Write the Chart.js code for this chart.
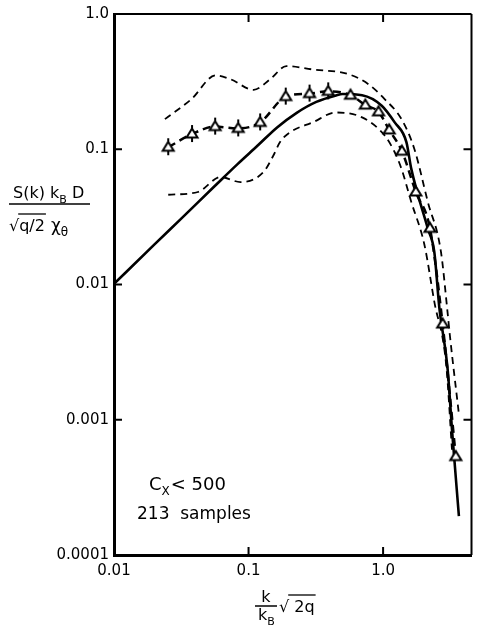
<!DOCTYPE html>
<html>
<head>
<meta charset="utf-8">
<script src="https://cdn.jsdelivr.net/npm/chart.js@4"></script>
<style>
html,body{margin:0;padding:0;background:#fff;}
#wrap{width:480px;height:629px;position:relative;}
</style>
</head>
<body>
<div id="wrap"><canvas id="c" width="480" height="629"></canvas></div>
<script>
// ---- data ----
const xTicks = [0.01, 0.1, 1];
const xTickLabels = ['0.01', '0.1', '1.0'];
const yTicks = [0.0001, 0.001, 0.01, 0.1, 1];
const yTickLabels = ['0.0001', '0.001', '0.01', '0.1', '1.0'];

// measured points (triangles)
const triX = [0.0253, 0.038, 0.0565, 0.0838, 0.122, 0.189, 0.284, 0.391, 0.573, 0.738, 0.925, 1.11, 1.38, 1.75, 2.23, 2.77, 3.47];
const triY = [0.1035, 0.1296, 0.147, 0.1426, 0.158, 0.245, 0.258, 0.268, 0.251, 0.212, 0.189, 0.139, 0.0967, 0.0483, 0.026, 0.0051, 0.000534];

// theory (solid)
const theoryX = [0.01, 0.02, 0.0316, 0.0556, 0.0832, 0.1164, 0.163, 0.228, 0.319, 0.447, 0.50, 0.698, 0.977, 1.22, 1.49, 1.62, 2.15, 2.40, 2.62, 3.01, 3.27, 3.66];
const theoryY = [0.0101, 0.0198, 0.0307, 0.053, 0.078, 0.106, 0.145, 0.186, 0.224, 0.250, 0.256, 0.251, 0.210, 0.158, 0.113, 0.0716, 0.0259, 0.0175, 0.0067, 0.00243, 0.000785, 0.000194];

// upper envelope (dashed)
const upperX = [0.0239, 0.0375, 0.0571, 0.0736, 0.109, 0.1445, 0.191, 0.300, 0.557, 0.780, 1.03, 1.37, 1.71, 2.15, 2.69, 3.01, 3.13, 3.66];
const upperY = [0.167, 0.234, 0.352, 0.329, 0.275, 0.329, 0.412, 0.389, 0.358, 0.302, 0.234, 0.167, 0.100, 0.0408, 0.0175, 0.0063, 0.00427, 0.0011];

// lower envelope (dashed)
const lowerX = [0.0253, 0.042, 0.0621, 0.0871, 0.129, 0.153, 0.171, 0.202, 0.300, 0.445, 0.698, 1.03, 1.22, 1.37, 1.62, 2.03, 2.40, 2.95, 3.25];
const lowerY = [0.0461, 0.0483, 0.0623, 0.0572, 0.0678, 0.0899, 0.1125, 0.133, 0.158, 0.187, 0.172, 0.126, 0.095, 0.0716, 0.0408, 0.0196, 0.0075, 0.0025, 0.0006];

const FONT = '"DejaVu Sans", sans-serif';

function pts(xs, ys) { return xs.map((x, i) => ({x: x, y: ys[i]})); }

// triangle marker images
function makeTri(stub) {
  const c = document.createElement('canvas');
  c.width = 16; c.height = 24;
  const g = c.getContext('2d');
  g.strokeStyle = '#000'; g.lineWidth = 2; g.fillStyle = '#fff';
  g.beginPath();
  g.moveTo(8, 6.5); g.lineTo(13.5, 15.5); g.lineTo(2.5, 15.5); g.closePath();
  g.fill(); g.stroke();
  if (stub) {
    g.beginPath();
    g.moveTo(8, 15.5); g.lineTo(8, 20);
    g.moveTo(8, 3); g.lineTo(8, 6.5);
    g.stroke();
  }
  return c;
}
const triStub = makeTri(true);
const triPlain = makeTri(false);

function drawRuns(ctx, x, y, runs, size) {
  for (const r of runs) {
    const fs = r.sub ? Math.round(size * 0.68) : size;
    ctx.font = fs + 'px ' + FONT;
    const dy = r.sub ? size * 0.3 : 0;
    ctx.fillText(r.t, x, y + dy);
    x += ctx.measureText(r.t).width + (r.gap || 0);
  }
  return x;
}

const decor = {
  id: 'decor',
  afterDraw(chart) {
    const ctx = chart.ctx;
    const a = chart.chartArea;
    const xs = chart.scales.x, ys = chart.scales.y;
    ctx.save();
    ctx.strokeStyle = '#000';
    ctx.fillStyle = '#000';
    // top and right frame
    ctx.lineWidth = 2;
    ctx.beginPath();
    ctx.moveTo(a.left, a.top); ctx.lineTo(a.right, a.top);
    ctx.moveTo(a.right, a.top); ctx.lineTo(a.right, a.bottom);
    ctx.stroke();
    // inward tick marks
    const TL = 8;
    ctx.lineWidth = 2;
    ctx.beginPath();
    [0.1, 1].forEach(v => {
      const px = xs.getPixelForValue(v);
      ctx.moveTo(px, a.bottom); ctx.lineTo(px, a.bottom - TL);
      ctx.moveTo(px, a.top); ctx.lineTo(px, a.top + TL);
    });
    [0.001, 0.01, 0.1].forEach(v => {
      const py = ys.getPixelForValue(v);
      ctx.moveTo(a.left, py); ctx.lineTo(a.left + TL, py);
      ctx.moveTo(a.right, py); ctx.lineTo(a.right - TL, py);
    });
    ctx.stroke();

    ctx.textBaseline = 'alphabetic';
    ctx.textAlign = 'left';
    // annotation
    drawRuns(ctx, 149, 490, [{t: 'C'}, {t: 'X', sub: true, gap: 1}, {t: '< 500'}], 18);
    ctx.font = '17px ' + FONT;
    ctx.fillText('213  samples', 137, 519);

    // y-axis title (fraction)
    drawRuns(ctx, 13, 198, [{t: 'S(k) k'}, {t: 'B', sub: true}, {t: ' D'}], 16);
    ctx.lineWidth = 1.5;
    ctx.beginPath(); ctx.moveTo(9, 204); ctx.lineTo(90, 204); ctx.stroke();
    ctx.font = '16px ' + FONT;
    ctx.fillText('\u221A', 9, 231);
    let sx = 9 + ctx.measureText('\u221A').width;
    ctx.fillText('q/2', sx, 231);
    let ex = sx + ctx.measureText('q/2').width;
    ctx.lineWidth = 1.3;
    ctx.beginPath(); ctx.moveTo(sx - 1, 214); ctx.lineTo(ex + 1, 214); ctx.stroke();
    drawRuns(ctx, ex + 6, 231, [{t: '\u03C7'}, {t: '\u03B8', sub: true}], 17);

    // x-axis title
    ctx.font = '16px ' + FONT;
    ctx.textAlign = 'center';
    ctx.fillText('k', 266, 602);
    ctx.lineWidth = 1.5;
    ctx.beginPath(); ctx.moveTo(255, 606); ctx.lineTo(277, 606); ctx.stroke();
    ctx.textAlign = 'left';
    drawRuns(ctx, 258, 620, [{t: 'k'}, {t: 'B', sub: true}], 16);
    ctx.font = '16px ' + FONT;
    ctx.fillText('\u221A', 279, 612);
    sx = 279 + ctx.measureText('\u221A').width;
    ctx.fillText(' 2q', sx, 612);
    ex = sx + ctx.measureText(' 2q').width;
    ctx.lineWidth = 1.3;
    ctx.beginPath(); ctx.moveTo(sx - 1, 595); ctx.lineTo(ex + 1, 595); ctx.stroke();
    ctx.restore();
  }
};

new Chart(document.getElementById('c'), {
  type: 'line',
  data: {
    datasets: [
      {
        label: 'measured',
        data: pts(triX, triY),
        borderColor: '#000',
        borderWidth: 2.5,
        borderDash: [8, 5],
        cubicInterpolationMode: 'monotone',
        pointStyle: (c) => c.dataIndex < 8 ? triStub : triPlain,
        pointRadius: 6,
        fill: false
      },
      {
        label: 'theory',
        data: pts(theoryX, theoryY),
        borderColor: '#000',
        borderWidth: 2.6,
        cubicInterpolationMode: 'monotone',
        pointRadius: 0,
        fill: false
      },
      {
        label: 'upper',
        data: pts(upperX, upperY),
        borderColor: '#000',
        borderWidth: 1.8,
        borderDash: [7, 5],
        cubicInterpolationMode: 'monotone',
        pointRadius: 0,
        fill: false
      },
      {
        label: 'lower',
        data: pts(lowerX, lowerY),
        borderColor: '#000',
        borderWidth: 1.8,
        borderDash: [7, 5],
        cubicInterpolationMode: 'monotone',
        pointRadius: 0,
        fill: false
      }
    ]
  },
  options: {
    responsive: false,
    animation: false,
    events: [],
    layout: {padding: {top: 10, right: 2, left: 0, bottom: 0}},
    plugins: {legend: {display: false}, tooltip: {enabled: false}},
    scales: {
      x: {
        type: 'logarithmic',
        min: 0.01,
        max: 4.54,
        grid: {display: false, drawTicks: false},
        border: {display: true, width: 3, color: '#000'},
        afterBuildTicks: (s) => { s.ticks = xTicks.map(v => ({value: v})); },
        afterFit: (s) => { s.height = 74; },
        ticks: {
          autoSkip: false,
          maxRotation: 0,
          padding: 7,
          color: '#000',
          font: {family: FONT, size: 15},
          callback: (v) => { const i = xTicks.indexOf(v); return i >= 0 ? xTickLabels[i] : ''; }
        }
      },
      y: {
        type: 'logarithmic',
        min: 0.0001,
        max: 1,
        grid: {display: false, drawTicks: false},
        border: {display: true, width: 3, color: '#000'},
        afterBuildTicks: (s) => { s.ticks = yTicks.map(v => ({value: v})); },
        afterFit: (s) => { s.width = 114; },
        ticks: {
          autoSkip: false,
          padding: 5,
          color: '#000',
          font: {family: FONT, size: 15},
          callback: (v) => { const i = yTicks.indexOf(v); return i >= 0 ? yTickLabels[i] : ''; }
        }
      }
    }
  },
  plugins: [decor]
});
</script>
</body>
</html>
